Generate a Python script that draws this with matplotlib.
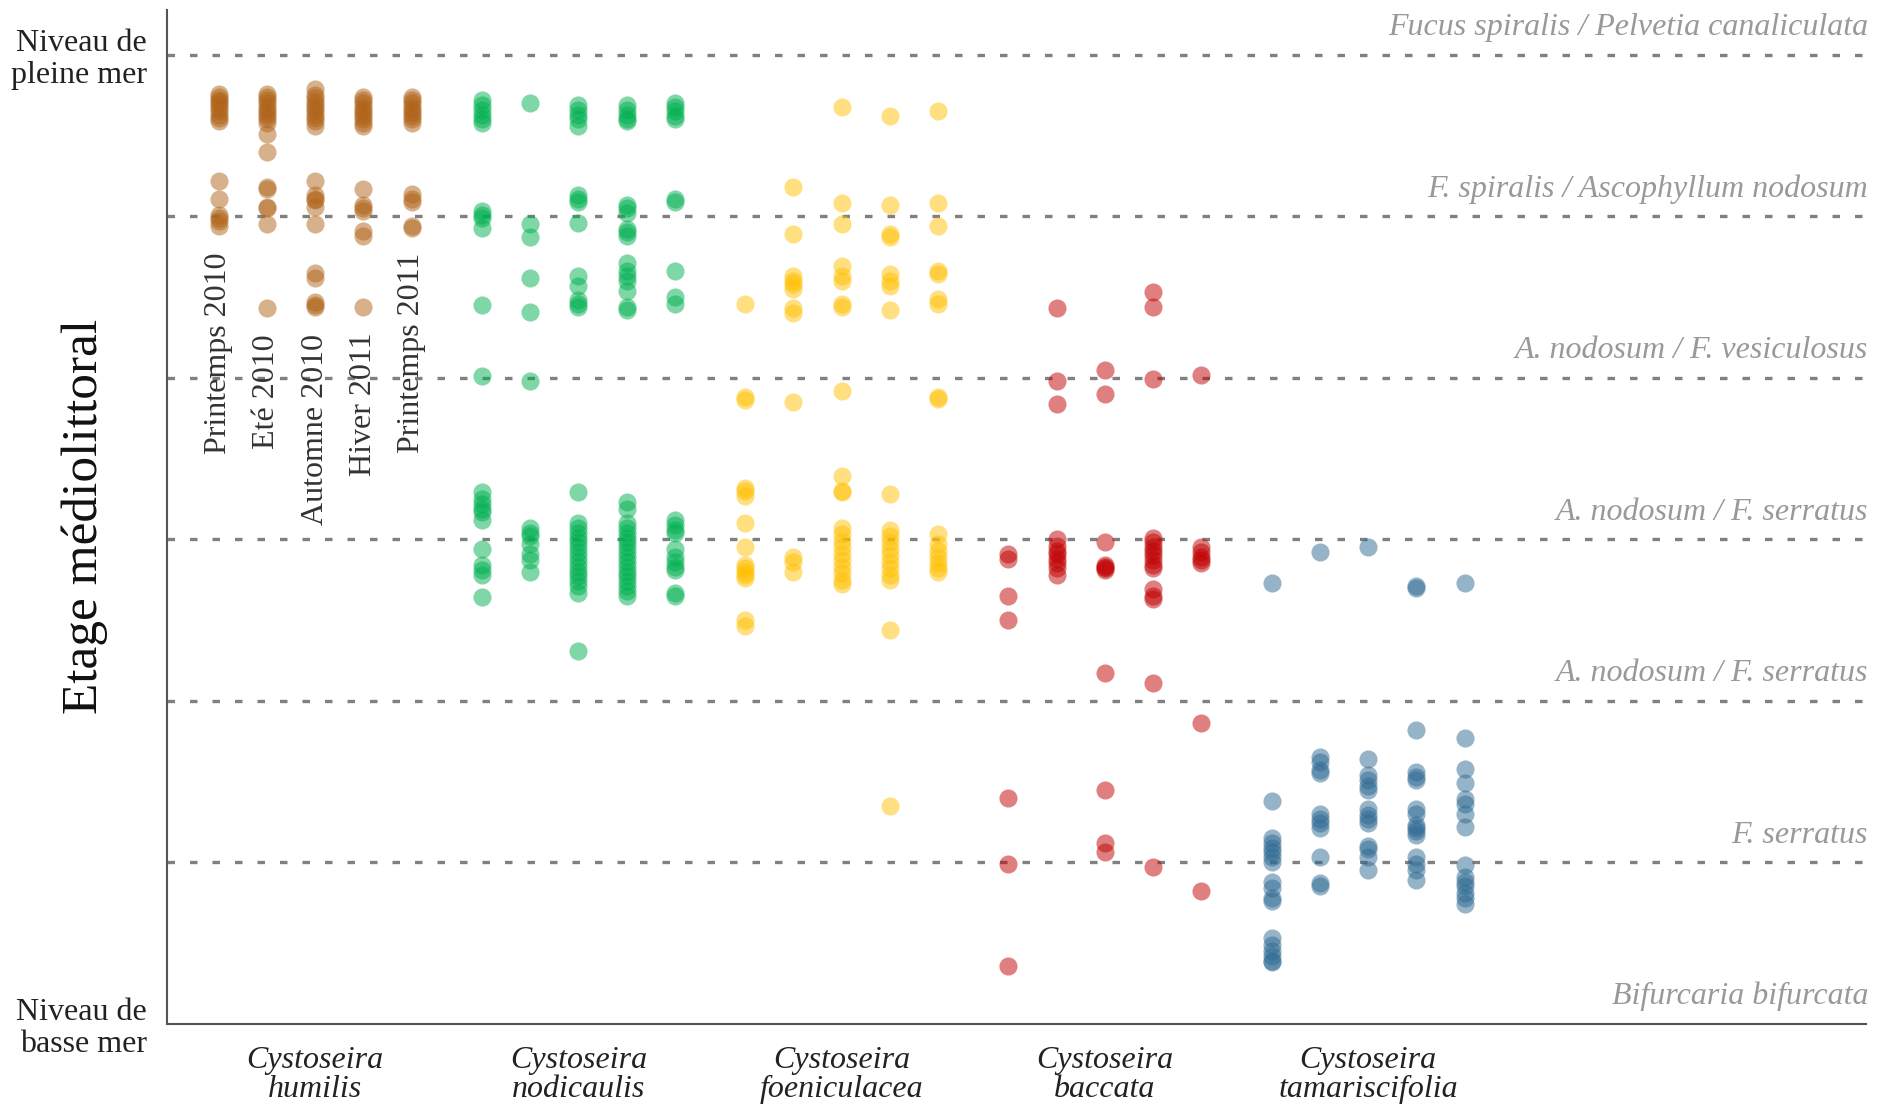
import matplotlib
matplotlib.use("Agg")
import matplotlib.pyplot as plt
import numpy as np

plt.rcParams['font.family'] = ['Liberation Serif', 'DejaVu Serif']

species = ["Cystoseira\nhumilis", "Cystoseira\nnodicaulis", "Cystoseira\nfoeniculacea",
           "Cystoseira\nbaccata", "Cystoseira\ntamariscifolia"]
seasons = ["Printemps 2010", "Eté 2010", "Automne 2010", "Hiver 2011", "Printemps 2011"]
colors = ["#B0641A", "#00B050", "#FFC000", "#C00000", "#2E6A93"]

# heights on the shore, one list per season (0 = basse mer, 6 = pleine mer)
humilis = [
    [5.76, 5.74, 5.72, 5.71, 5.69, 5.67, 5.65, 5.63, 5.61, 5.59, 5.22, 5.11, 5.01, 4.99, 4.97, 4.94],
    [5.76, 5.74, 5.72, 5.70, 5.68, 5.66, 5.64, 5.62, 5.60, 5.58, 5.51, 5.40, 5.18, 5.17, 5.06, 5.05, 4.95, 4.43],
    [5.79, 5.75, 5.73, 5.71, 5.69, 5.67, 5.65, 5.63, 5.61, 5.59, 5.56, 5.22, 5.13, 5.11, 5.10, 5.06, 4.95,
     4.65, 4.62, 4.47, 4.45, 4.44],
    [5.74, 5.72, 5.70, 5.68, 5.66, 5.64, 5.62, 5.60, 5.58, 5.56, 5.17, 5.07, 5.05, 5.03, 4.91, 4.88, 4.44],
    [5.74, 5.72, 5.70, 5.68, 5.66, 5.64, 5.62, 5.60, 5.58, 5.14, 5.11, 5.09, 4.94, 4.93],
]
nodicaulis = [
    [5.72, 5.69, 5.66, 5.63, 5.60, 5.58, 5.03, 5.01, 4.99, 4.93, 4.45, 4.01, 3.29, 3.25, 3.22, 3.19, 3.17,
     3.12, 2.94, 2.84, 2.81, 2.78, 2.64],
    [5.70, 4.95, 4.87, 4.62, 4.41, 3.98, 3.07, 3.04, 3.02, 2.97, 2.91, 2.87, 2.80],
    [5.69, 5.66, 5.63, 5.60, 5.56, 5.13, 5.11, 5.09, 4.96, 4.63, 4.57, 4.48, 4.46, 4.44, 3.29, 3.10, 3.07,
     3.04, 3.01, 2.98, 2.95, 2.92, 2.89, 2.86, 2.83, 2.80, 2.77, 2.74, 2.71, 2.67, 2.31],
    [5.69, 5.66, 5.63, 5.60, 5.59, 5.07, 5.05, 5.02, 4.92, 4.90, 4.88, 4.71, 4.66, 4.63, 4.60, 4.54, 4.44,
     4.42, 3.23, 3.19, 3.10, 3.07, 3.04, 3.01, 2.98, 2.95, 2.92, 2.89, 2.86, 2.83, 2.80, 2.77, 2.74, 2.71,
     2.68, 2.65],
    [5.70, 5.68, 5.65, 5.62, 5.60, 5.11, 5.09, 4.66, 4.50, 4.46, 3.12, 3.09, 3.06, 3.04, 2.94, 2.89, 2.86,
     2.83, 2.81, 2.67, 2.65],
]
foeniculacea = [
    [4.46, 3.88, 3.86, 3.32, 3.30, 3.27, 3.10, 2.95, 2.84, 2.82, 2.80, 2.78, 2.76, 2.50, 2.46],
    [5.18, 4.89, 4.63, 4.60, 4.58, 4.55, 4.43, 4.40, 3.85, 2.89, 2.86, 2.80],
    [5.68, 5.08, 4.95, 4.69, 4.63, 4.60, 4.46, 4.44, 3.92, 3.39, 3.30, 3.29, 3.07, 3.03, 2.99, 2.95, 2.91,
     2.87, 2.83, 2.79, 2.75, 2.72],
    [5.62, 5.07, 4.89, 4.87, 4.64, 4.60, 4.57, 4.42, 3.28, 3.06, 3.02, 2.98, 2.94, 2.90, 2.86, 2.82, 2.78,
     2.75, 2.44, 1.35],
    [5.65, 5.08, 4.94, 4.66, 4.64, 4.49, 4.46, 3.88, 3.87, 3.03, 2.97, 2.93, 2.89, 2.85, 2.82, 2.80],
]
baccata = [
    [2.91, 2.88, 2.65, 2.50, 1.40, 0.99, 0.36],
    [4.43, 3.98, 3.84, 3.00, 2.96, 2.93, 2.91, 2.88, 2.85, 2.82, 2.78],
    [4.05, 3.90, 2.98, 2.84, 2.83, 2.82, 2.81, 2.17, 1.45, 1.12, 1.06],
    [4.53, 4.44, 3.99, 3.01, 2.98, 2.95, 2.93, 2.90, 2.87, 2.84, 2.82, 2.69, 2.65, 2.63, 2.11, 0.97],
    [4.02, 2.95, 2.92, 2.89, 2.87, 2.85, 1.86, 0.82],
]
tamariscifolia = [
    [2.73, 1.38, 1.15, 1.12, 1.09, 1.06, 1.03, 1.00, 0.88, 0.84, 0.78, 0.76, 0.53, 0.49, 0.45, 0.42, 0.39, 0.38],
    [2.92, 1.65, 1.62, 1.57, 1.55, 1.30, 1.27, 1.24, 1.21, 1.03, 0.87, 0.85],
    [2.95, 1.64, 1.54, 1.51, 1.47, 1.45, 1.33, 1.29, 1.27, 1.24, 1.10, 1.08, 1.03, 0.95],
    [2.71, 2.70, 1.82, 1.56, 1.53, 1.51, 1.33, 1.30, 1.23, 1.21, 1.19, 1.17, 1.03, 0.99, 0.95, 0.89],
    [2.73, 1.77, 1.58, 1.49, 1.39, 1.36, 1.30, 1.22, 0.98, 0.91, 0.88, 0.85, 0.81, 0.78, 0.74],
]

zone_levels = [0, 1, 2, 3, 4, 5, 6]
zone_labels = ["Bifurcaria bifurcata", "F. serratus", "A. nodosum / F. serratus",
               "A. nodosum / F. serratus", "A. nodosum / F. vesiculosus",
               "F. spiralis / Ascophyllum nodosum", "Fucus spiralis / Pelvetia canaliculata"]

all_data = [humilis, nodicaulis, foeniculacea, baccata, tamariscifolia]
group_step = 5.45
x_right = 34.1

fig = plt.figure(figsize=(18.94, 11.07), dpi=100)
ax = fig.add_axes([0.088, 0.0753, 0.897, 0.916])

for g, (data, col) in enumerate(zip(all_data, colors)):
    for s, vals in enumerate(data):
        x = np.full(len(vals), g * group_step + s)
        ax.scatter(x, vals, s=170, color=col, alpha=0.5, linewidths=0, zorder=3)

# dashed zone limits + zone names
for lvl, lab in zip(zone_levels, zone_labels):
    if lvl > 0:
        ax.axhline(lvl, color="#808080", lw=2.4, linestyle=(0, (2.25, 4.5)), zorder=1)
    ax.text(x_right + 0.05, lvl + 0.12, lab, ha="right", va="baseline", style="italic",
            color="#999999", fontsize=23)

# season names on the first group
season_tops = [4.775, 4.27, 4.27, 4.28, 4.775]
for s, (name, top) in enumerate(zip(seasons, season_tops)):
    ax.text(s, top, name, rotation=90, ha="center", va="top", fontsize=23, color="#333333")

ax.set_xlim(-1.075, x_right)
ax.set_ylim(0, 6.28)

ax.set_xticks([g * group_step + 2 for g in range(len(species))])
ax.set_xticklabels(species, style="italic", fontsize=23, color="#222222", linespacing=1.0)
ax.set_yticks([0, 6])
ax.set_yticklabels(["Niveau de\nbasse mer", "Niveau de\npleine mer"], fontsize=23,
                   color="#222222", multialignment="right", linespacing=1.12)
ax.tick_params(axis="both", length=0)
ax.tick_params(axis="y", pad=14)
ax.tick_params(axis="x", pad=16)

ax.text(-0.048, 0.5, "Etage médiolittoral", transform=ax.transAxes, rotation=90,
        ha="center", va="center", fontsize=37, color="#111111")

for side in ["top", "right"]:
    ax.spines[side].set_visible(False)
for side in ["left", "bottom"]:
    ax.spines[side].set_color("#555555")
    ax.spines[side].set_linewidth(1.5)

fig.savefig("out.png", dpi=100)
